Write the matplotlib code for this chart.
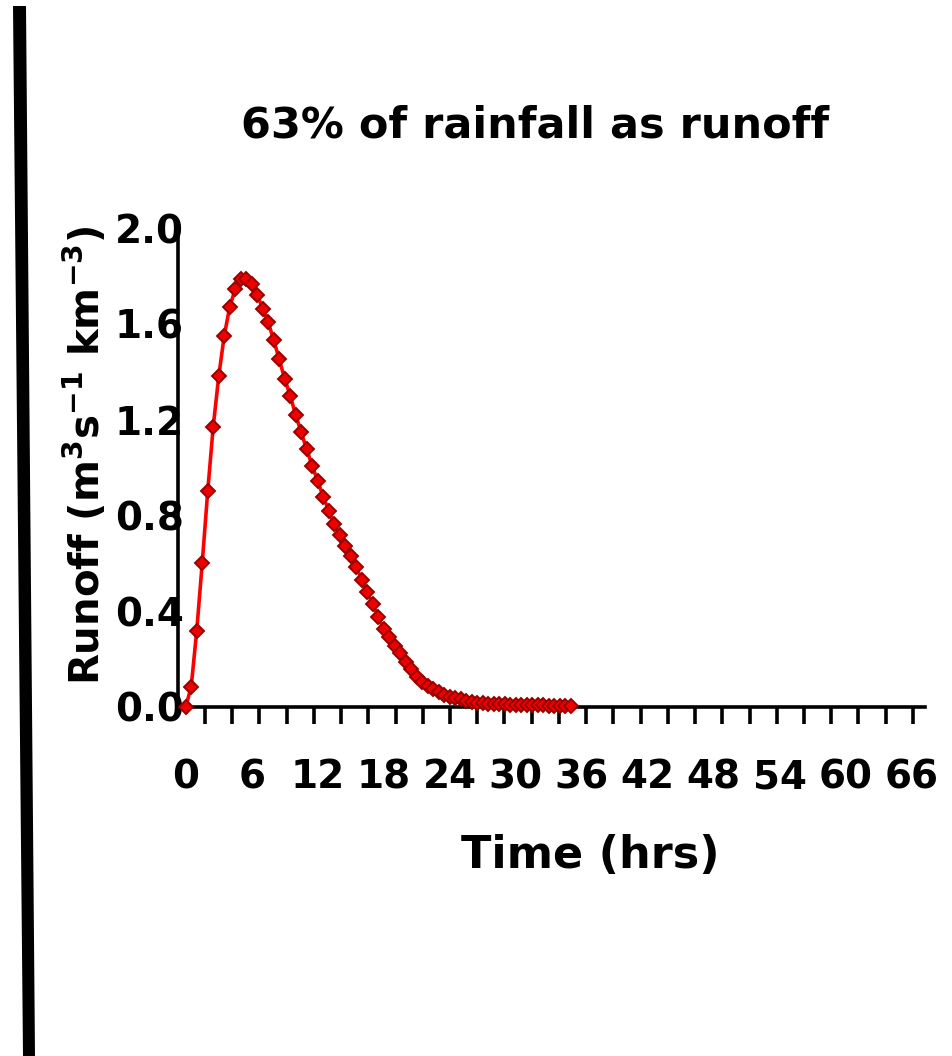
import numpy as np
import matplotlib
matplotlib.use("Agg")
import matplotlib.pyplot as plt
from matplotlib.patches import Polygon

plt.rcParams['font.family'] = ['DejaVu Sans']
plt.rcParams['font.weight'] = 'bold'
plt.rcParams['mathtext.fontset'] = 'dejavusans'
plt.rcParams['mathtext.default'] = 'bf'

# ---- data ----
title = "63% of rainfall as runoff"
x_label = "Time (hrs)"
y_label = "Runoff (m$^{3}$s$^{-1}$ km$^{-3}$)"
time_step_hrs = 0.5
runoff = [0.0, 0.085, 0.317, 0.60, 0.90, 1.17, 1.38, 1.55, 1.67, 1.745,
          1.787, 1.786, 1.766, 1.722, 1.663, 1.606, 1.532, 1.452, 1.37, 1.30,
          1.219, 1.147, 1.076, 1.006, 0.944, 0.878, 0.820, 0.763, 0.718, 0.673,
          0.630, 0.586, 0.530, 0.479, 0.429, 0.377, 0.324, 0.291, 0.256, 0.224,
          0.189, 0.157, 0.127, 0.106, 0.088, 0.074, 0.064, 0.050, 0.043, 0.038,
          0.032, 0.027, 0.022, 0.018, 0.016, 0.014, 0.013, 0.012, 0.011, 0.010,
          0.009, 0.009, 0.008, 0.008, 0.007, 0.007, 0.006, 0.006, 0.006, 0.005,
          0.005]
times = np.arange(len(runoff)) * time_step_hrs
x_tick_values = [0, 6, 12, 18, 24, 30, 36, 42, 48, 54, 60, 66]
x_tick_labels = ["0", "6", "12", "18", "24", "30", "36", "42", "48", "54", "60", "66"]
y_tick_values = [0.0, 0.4, 0.8, 1.2, 1.6, 2.0]
y_tick_labels = ["0.0", "0.4", "0.8", "1.2", "1.6", "2.0"]

W, H = 952, 1056
fig = plt.figure(figsize=(W / 100, H / 100), dpi=100)

# left black bar decoration
bar = Polygon([[13 / W, 1 - 6 / H], [26 / W, 1 - 6 / H], [35 / W, 0], [23 / W, 0]],
              closed=True, transform=fig.transFigure, facecolor='black', edgecolor='none')
fig.patches.append(bar)

ax = fig.add_axes([178 / W, 1 - 707 / H, (925 - 178) / W, (707 - 228) / H])
ax.plot(times, runoff, color='#ff0000', lw=2.6, marker='D', markersize=7,
        markerfacecolor='#ee0000', markeredgecolor='#990000', markeredgewidth=1.4,
        clip_on=False, zorder=3)

ax.set_xlim(-0.7, 67.2)
ax.set_ylim(0, 2.0)
for s in ['top', 'right']:
    ax.spines[s].set_visible(False)
for s in ['left', 'bottom']:
    ax.spines[s].set_linewidth(2.6)

ax.set_xticks(x_tick_values)
ax.set_xticklabels(x_tick_labels)
ax.set_xticks([1.75 + 2.475 * k for k in range(27)], minor=True)
ax.tick_params(axis='x', which='major', length=0, pad=37, labelsize=28)
ax.tick_params(axis='x', which='minor', direction='out', length=12, width=2.6)
ax.set_yticks(y_tick_values)
ax.set_yticklabels(y_tick_labels)
ax.tick_params(axis='y', which='both', length=0, pad=-4, labelsize=28)
for lbl in ax.get_yticklabels():
    lbl.set_fontweight('bold')
for lbl in ax.get_xticklabels():
    lbl.set_fontweight('bold')

fig.text(535 / W, 1 - 125 / H, title, ha='center', va='center', fontsize=31, fontweight='bold')
fig.text(590 / W, 1 - 855 / H, x_label, ha='center', va='center', fontsize=32, fontweight='bold')
fig.text(85 / W, 1 - 455 / H, y_label, ha='center', va='center', rotation=90,
         fontsize=29, fontweight='bold')

fig.savefig("out.png", dpi=100, facecolor='white')
